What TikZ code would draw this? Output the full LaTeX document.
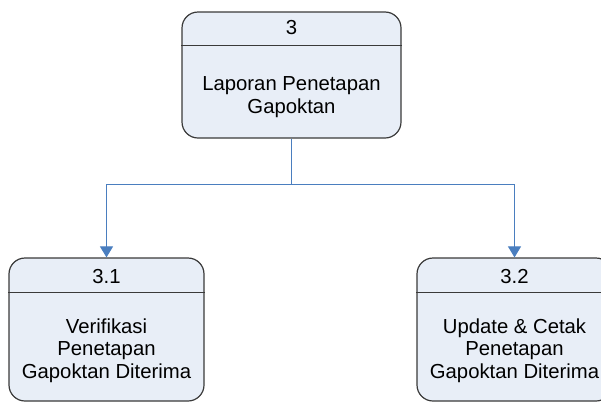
\documentclass[tikz,border=0pt]{standalone}
\usepackage{fontspec}
\setmainfont{Liberation Sans}
\usetikzlibrary{arrows.meta}
\definecolor{boxfill}{HTML}{E8EEF7}
\definecolor{boxline}{HTML}{3A3A3A}
\definecolor{conn}{HTML}{4A7EBF}
\tikzset{
  procbox/.style={draw=boxline, fill=boxfill, line width=1.2pt, rounded corners=16pt,
    rectangle, inner sep=0pt},
  divline/.style={draw=boxline, line width=1.2pt},
  numtxt/.style={anchor=base, inner sep=0pt, font=\fontsize{20.3}{22.5}\selectfont},
  bodytxt/.style={anchor=base, inner sep=0pt, align=center, font=\fontsize{20.3}{22.5}\selectfont},
  connline/.style={draw=conn, line width=1pt},
  connarrow/.style={draw=conn, line width=1pt, -{Triangle[width=13pt,length=11pt,fill=conn]}}
}
\begin{document}
\begin{tikzpicture}[x=1pt,y=-1pt]
\useasboundingbox (0,0) rectangle (601,402);
\begin{scope}
\clip (0,0) rectangle (601,402);
% top box
\node[procbox, minimum width=219pt, minimum height=126pt] (p3) at (291.5,75) {};
\draw[divline] ([yshift=-34pt]p3.north west) -- ([yshift=-34pt]p3.north east);
\node[numtxt] (p3n) at (291.5,34.5) {3};
\node[bodytxt] (p3t) at (291.5,113) {Laporan Penetapan\\Gapoktan};
% box 3.1
\node[procbox, minimum width=195pt, minimum height=143pt] (p31) at (106.5,329.5) {};
\draw[divline] ([yshift=-35pt]p31.north west) -- ([yshift=-35pt]p31.north east);
\node[numtxt] (p31n) at (106.5,283) {3.1};
\node[bodytxt] (p31t) at (106.5,378) {Verifikasi\\Penetapan\\Gapoktan Diterima};
% box 3.2
\node[procbox, minimum width=195pt, minimum height=143pt] (p32) at (514.5,329.5) {};
\draw[divline] ([yshift=-35pt]p32.north west) -- ([yshift=-35pt]p32.north east);
\node[numtxt] (p32n) at (514.5,283) {3.2};
\node[bodytxt] (p32t) at (514.5,378) {Update \& Cetak\\Penetapan\\Gapoktan Diterima};
% connectors
\coordinate (split) at (291,184);
\draw[connline] (p3.south -| split) -- (split);
\draw[connarrow] (split) -| (p31.north);
\draw[connarrow] (split) -| (p32.north);
\end{scope}
\end{tikzpicture}
\end{document}
